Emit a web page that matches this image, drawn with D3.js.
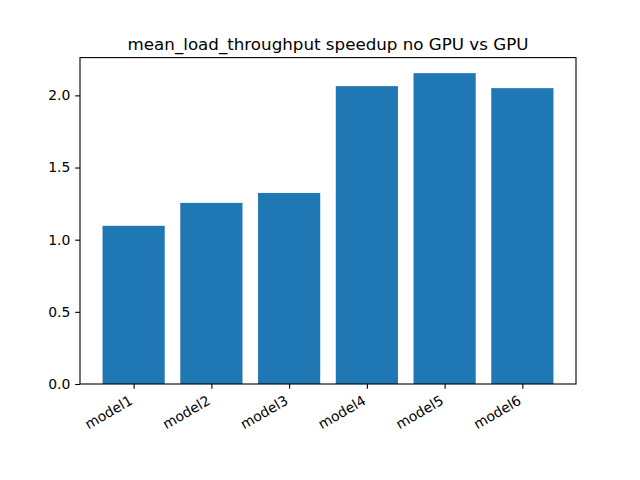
<!DOCTYPE html>
<html><head><meta charset="utf-8">
<script src="https://cdn.jsdelivr.net/npm/d3@7"></script>
<style>body{margin:0;background:#fff}svg text{font-family:"DejaVu Sans",sans-serif;fill:#000}</style>
</head><body><svg id="c" width="640" height="480"></svg>
<script>
const categories = ["model1","model2","model3","model4","model5","model6"];
const values = [1.096, 1.255, 1.324, 2.064, 2.154, 2.050];
const yTicks = [0.0, 0.5, 1.0, 1.5, 2.0];
const title = "mean_load_throughput speedup no GPU vs GPU";

const svg = d3.select("#c");
const L = 80, R = 576, T = 57.6, B = 384;
const barW = 0.8;
const n = categories.length;
const xmin = -barW/2, xmax = n - 1 + barW/2, xm = (xmax - xmin) * 0.05;
const x = d3.scaleLinear().domain([xmin - xm, xmax + xm]).range([L, R]);
const ymax = d3.max(values) * 1.05;
const y = d3.scaleLinear().domain([0, ymax]).range([B, T]);

svg.append("g").selectAll("rect").data(values).join("rect")
  .attr("x", (d, i) => x(i - barW/2))
  .attr("width", (d, i) => x(i + barW/2) - x(i - barW/2))
  .attr("y", d => y(d))
  .attr("height", d => y(0) - y(d))
  .attr("fill", "#1f77b4");

// y axis
const yAxis = d3.axisLeft(y).tickValues(yTicks).tickFormat(d3.format(".1f")).tickSize(4.86).tickPadding(4.86);
const gy = svg.append("g").attr("transform", `translate(${L},0)`).call(yAxis);
gy.select(".domain").remove();
gy.selectAll("line").attr("stroke", "#000").attr("stroke-width", 1.1);
gy.selectAll("text").attr("font-size", "13.9px").attr("font-family", "DejaVu Sans");

// x axis
const xAxis = d3.axisBottom(x).tickValues(d3.range(n)).tickFormat(i => categories[i]).tickSize(4.86).tickPadding(4.86);
const gx = svg.append("g").attr("transform", `translate(0,${B})`).call(xAxis);
gx.select(".domain").remove();
gx.selectAll("line").attr("stroke", "#000").attr("stroke-width", 1.1);
gx.selectAll("text").attr("font-size", "13.9px").attr("font-family", "DejaVu Sans")
  .attr("text-anchor", "end").attr("y", 0).attr("dy", "0.78em")
  .attr("transform", "translate(-6,10) rotate(-30)");

// spines
svg.append("rect").attr("x", L).attr("y", T).attr("width", R - L).attr("height", B - T)
  .attr("fill", "none").attr("stroke", "#000").attr("stroke-width", 1.1);

svg.append("text").attr("x", (L + R) / 2).attr("y", 50).attr("text-anchor", "middle")
  .attr("font-size", "16.7px").text(title);
</script></body></html>
